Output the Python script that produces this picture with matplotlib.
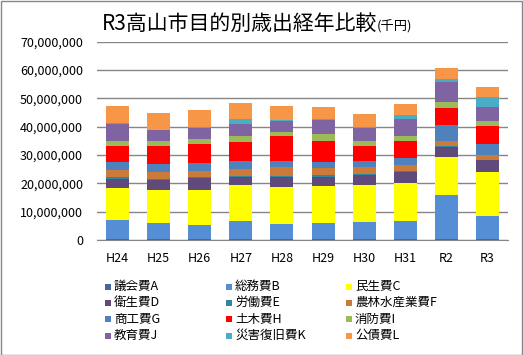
import matplotlib
matplotlib.use("Agg")
import matplotlib.pyplot as plt
from matplotlib.patches import Rectangle
import numpy as np

plt.rcParams['font.family'] = ['Noto Sans CJK JP', 'DejaVu Sans']

# 年度
years = ["H24", "H25", "H26", "H27", "H28", "H29", "H30", "H31", "R2", "R3"]

# 費目名
names = ["議会費A", "総務費B", "民生費C", "衛生費D", "労働費E", "農林水産業費F",
         "商工費G", "土木費H", "消防費I", "教育費J", "災害復旧費K", "公債費L"]

colors = ["#44679E", "#558ED5", "#FFFF00", "#604A7B", "#31859C", "#CC7A3A",
          "#4F81BD", "#FF0000", "#9BBB59", "#8064A2", "#4BACC6", "#F79646"]

# 各費目の金額 (千円)  - 画像から読み取った概算値
giseki   = [400000, 400000, 400000, 400000, 400000, 400000, 400000, 400000, 400000, 400000]
somu     = [6660000, 5600000, 4900000, 6300000, 5200000, 5600000, 6000000, 6300000, 15500000, 8200000]
minsei   = [11440000, 11600000, 12300000, 12700000, 13100000, 13100000, 13100000, 13400000, 13400000, 15400000]
eisei    = [3100000, 3600000, 4200000, 2800000, 3400000, 3300000, 3300000, 3800000, 3600000, 4100000]
rodo     = [500000, 500000, 400000, 500000, 400000, 400000, 400000, 300000, 300000, 300000]
norin    = [2600000, 2300000, 2100000, 2300000, 3100000, 2500000, 2400000, 2400000, 1700000, 1500000]
shoko    = [2800000, 2800000, 2800000, 2800000, 2400000, 2400000, 2400000, 2400000, 5700000, 4000000]
doboku   = [5700000, 6400000, 6700000, 6800000, 8600000, 7400000, 5300000, 5800000, 6100000, 6500000]
shobo    = [1600000, 1600000, 2000000, 2100000, 1700000, 2200000, 1700000, 2000000, 2100000, 1600000]
kyoiku   = [6300000, 3900000, 3600000, 4300000, 3700000, 5000000, 4400000, 5800000, 7100000, 5100000]
saigai   = [300000, 300000, 600000, 1600000, 300000, 400000, 600000, 1600000, 900000, 3300000]
kosai    = [5900000, 5900000, 6000000, 5800000, 5000000, 4400000, 4600000, 3900000, 3900000, 3600000]

series = [giseki, somu, minsei, eisei, rodo, norin,
          shoko, doboku, shobo, kyoiku, saigai, kosai]

W, H = 523, 355
fig = plt.figure(figsize=(W / 100, H / 100), dpi=100)
ax = fig.add_axes([97 / W, 1 - 240 / H, (508 - 97) / W, (240 - 41.7) / H])

x = np.arange(len(years))
bottom = np.zeros(len(years))
for vals, c in zip(series, colors):
    ax.bar(x, vals, width=0.56, bottom=bottom, color=c, zorder=3)
    bottom += np.array(vals)

ax.set_xlim(-0.5, len(years) - 0.5)
ax.set_ylim(0, 70000000)
ax.set_yticks(np.arange(0, 70000001, 10000000))
ax.yaxis.set_major_formatter(matplotlib.ticker.FuncFormatter(lambda v, p: f"{int(v):,}"))
ax.set_xticks(x)
ax.set_xticklabels(years)
ax.tick_params(axis='y', length=0, pad=10, labelsize=9)
ax.tick_params(axis='x', length=0, pad=9, labelsize=9)
ax.grid(axis='y', color='#868686', linewidth=1, zorder=0)
for s in ["left", "right", "top"]:
    ax.spines[s].set_visible(False)
ax.spines["bottom"].set_color("#868686")

# タイトル
fig.text(102 / W, 1 - 24 / H, "R3高山市目的別歳出経年比較", fontsize=15,
         ha='left', va='center')
fig.text(377 / W, 1 - 26 / H, "(千円)", fontsize=9.5, ha='left', va='center')

# 凡例 (3列)
col_x = [105, 226, 346]
row_y = [286.5, 302.5, 319, 335.5]
for i, (nm, c) in enumerate(zip(names, colors)):
    r, k = divmod(i, 3)
    fig.patches.append(Rectangle((col_x[k] / W, 1 - (row_y[r] + 3) / H), 6 / W, 6 / H,
                                 transform=fig.transFigure, facecolor=c, edgecolor='none'))
    fig.text((col_x[k] + 9) / W, 1 - row_y[r] / H, nm, fontsize=9, ha='left', va='center')

# 外枠
fig.patches.append(Rectangle((0.5 / W, 0.5 / H), 1 - 1.5 / W, 1 - 1.5 / H,
                             transform=fig.transFigure, fill=False,
                             edgecolor='#868686', linewidth=1))

fig.savefig("out.png", dpi=100)
